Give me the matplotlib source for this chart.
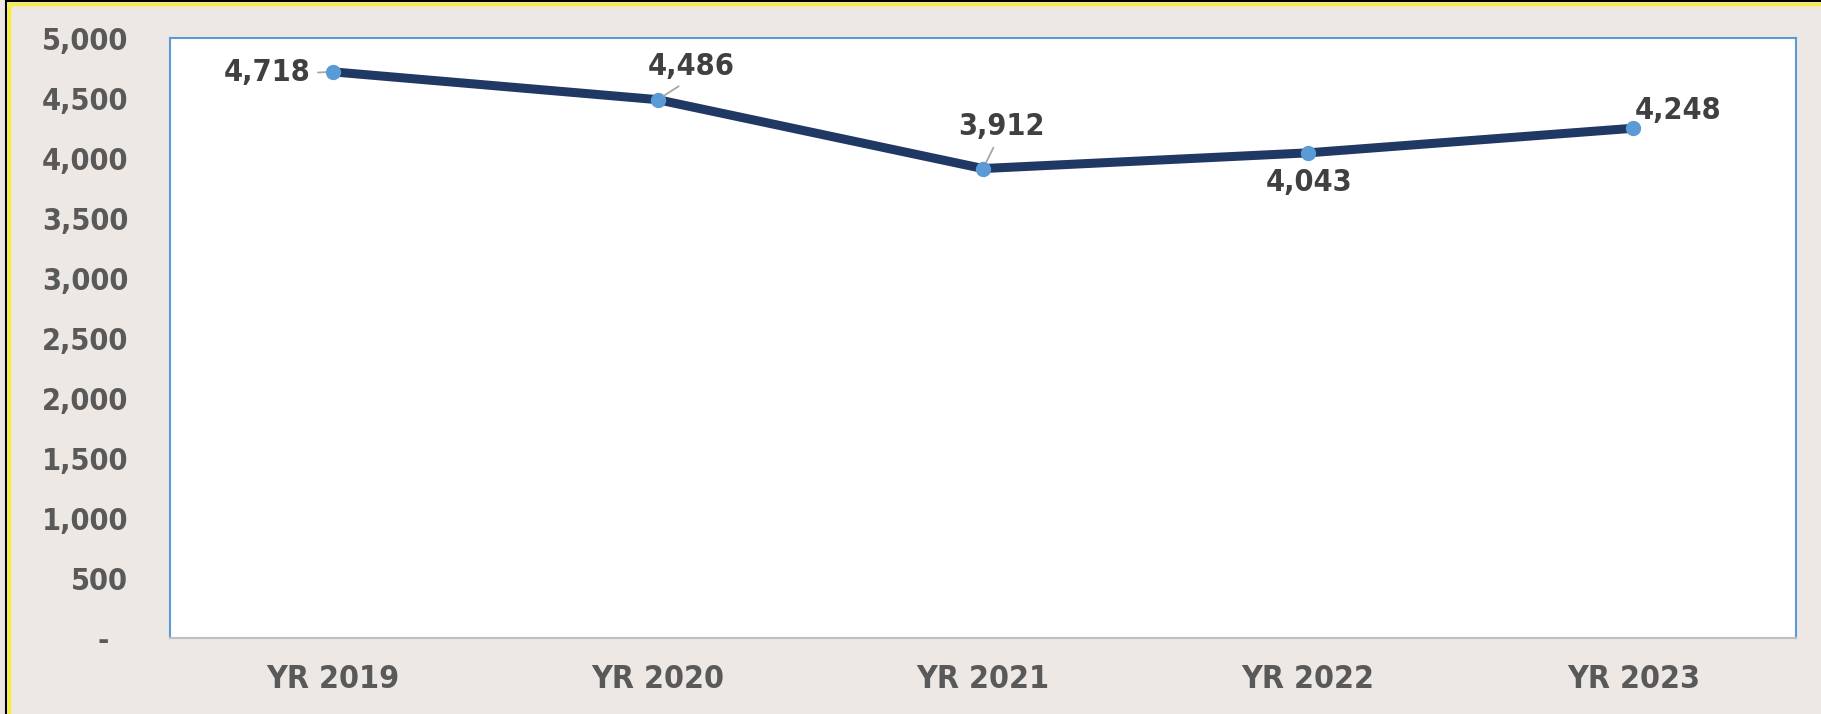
import matplotlib.pyplot as plt
from matplotlib.patches import Rectangle

years = ["YR 2019", "YR 2020", "YR 2021", "YR 2022", "YR 2023"]
values = [4718, 4486, 3912, 4043, 4248]
y_ticks = [0, 500, 1000, 1500, 2000, 2500, 3000, 3500, 4000, 4500, 5000]
y_tick_labels = ["-  ", "500", "1,000", "1,500", "2,000", "2,500",
                 "3,000", "3,500", "4,000", "4,500", "5,000"]

# label offsets in pixels (dx, dy); leader line anchor on the label (None = no leader)
label_offsets = [(-65, -1), (33, 33), (18, 42), (1, -30), (45, 18)]
leader_relpos = [(1.0, 0.5), (0.45, 0.0), (0.45, 0.0), None, None]

bg = "#EEE8E4"
txt = dict(fontweight="bold", fontstretch="condensed")

fig = plt.figure(figsize=(18.21, 7.14), dpi=100, facecolor=bg)
ax = fig.add_axes([170 / 1821, 1 - 638 / 714, 1626 / 1821, 600 / 714])
ax.set_facecolor("white")

x = range(len(years))
ax.plot(x, values, color="#1F3864", lw=6.5, solid_capstyle="round", zorder=2)
ax.plot(x, values, "o", color="#5B9BD5", ms=10, zorder=3)

for i, v in enumerate(values):
    dx, dy = label_offsets[i]
    arrow = None
    if leader_relpos[i]:
        arrow = dict(arrowstyle="-", color="#A6A6A6", lw=1.3, shrinkA=3, shrinkB=5,
                     relpos=leader_relpos[i])
    ax.annotate(f"{v:,}", (i, v), xytext=(dx, dy), textcoords="offset pixels",
                ha="center", va="center", fontsize=22, color="#404040",
                arrowprops=arrow, zorder=4, **txt)

ax.set_xlim(-0.5, len(years) - 0.5)
ax.set_ylim(0, 5000)
ax.set_xticks(list(x))
ax.set_xticklabels(years, fontsize=23, color="#595959", **txt)
ax.set_yticks(y_ticks)
ax.set_yticklabels(y_tick_labels, fontsize=22, color="#595959", **txt)
ax.tick_params(axis="x", length=0, pad=19)
ax.tick_params(axis="y", length=0, pad=30)

for side in ["left", "top", "right"]:
    ax.spines[side].set_color("#5B9BD5")
    ax.spines[side].set_linewidth(1.5)
ax.spines["bottom"].set_color("#BFBFBF")
ax.spines["bottom"].set_linewidth(1.5)

# outer frame: black edge with yellow inner band, cropped at right/bottom
fig.add_artist(Rectangle((6 / 1821, -0.1), 1.2, 1.1 - 1 / 714, transform=fig.transFigure,
                         fill=False, edgecolor="black", lw=1.5))
fig.add_artist(Rectangle((9 / 1821, -0.1), 1.2, 1.1 - 4.5 / 714, transform=fig.transFigure,
                         fill=False, edgecolor="#F5F03C", lw=2.5))

fig.savefig("out.png", dpi=100, facecolor=bg)
